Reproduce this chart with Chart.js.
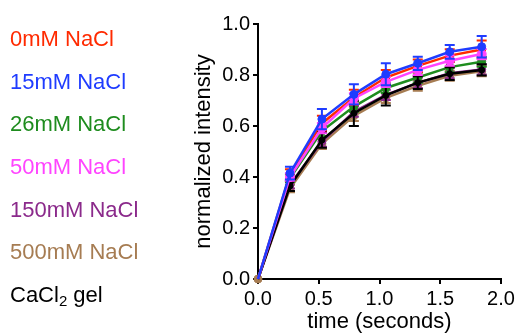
<!DOCTYPE html>
<html><head><meta charset="utf-8">
<script src="https://cdn.jsdelivr.net/npm/chart.js@4.4.1/dist/chart.umd.min.js"></script>
<style>html,body{margin:0;padding:0;background:#fff;}#c{display:block;}</style>
</head><body>
<canvas id="c" width="520" height="335"></canvas>
<script>
// ---- data ----
const times = [0, 0.263, 0.526, 0.789, 1.052, 1.315, 1.578, 1.841];
const seriesLabels = ['0mM NaCl', '15mM NaCl', '26mM NaCl', '50mM NaCl', '150mM NaCl', '500mM NaCl', 'CaCl2 gel'];
const nacl0   = [0, 0.410, 0.610, 0.712, 0.790, 0.836, 0.876, 0.900];
const nacl15  = [0, 0.415, 0.627, 0.724, 0.803, 0.846, 0.891, 0.911];
const nacl26  = [0, 0.395, 0.580, 0.676, 0.749, 0.790, 0.831, 0.852];
const nacl50  = [0, 0.400, 0.592, 0.708, 0.773, 0.820, 0.856, 0.882];
const nacl150 = [0, 0.370, 0.539, 0.656, 0.722, 0.769, 0.807, 0.822];
const nacl500 = [0, 0.355, 0.530, 0.640, 0.710, 0.758, 0.797, 0.815];
const cacl2   = [0, 0.365, 0.545, 0.650, 0.720, 0.770, 0.805, 0.820];
const err0    = [0, 0.020, 0.030, 0.030, 0.030, 0.025, 0.025, 0.035];
const err15   = [0, 0.025, 0.040, 0.040, 0.043, 0.026, 0.027, 0.042];
const err26   = [0, 0.015, 0.020, 0.020, 0.020, 0.020, 0.020, 0.020];
const err50   = [0, 0.015, 0.020, 0.020, 0.020, 0.020, 0.020, 0.020];
const err150  = [0, 0.015, 0.020, 0.020, 0.020, 0.020, 0.020, 0.020];
const err500  = [0, 0.015, 0.020, 0.020, 0.020, 0.020, 0.020, 0.020];
const errCa   = [0, 0.020, 0.030, 0.050, 0.040, 0.025, 0.025, 0.022];
const xTicks = [0, 0.5, 1.0, 1.5, 2.0];
const yTicks = [0, 0.2, 0.4, 0.6, 0.8, 1.0];
const colors = ['#ff2a00', '#1f3cff', '#1e8c1e', '#ff44ff', '#8b2a8b', '#a67c52', '#000000'];

const values = [nacl0, nacl15, nacl26, nacl50, nacl150, nacl500, cacl2];
const errs = [err0, err15, err26, err50, err150, err500, errCa];
const drawOrder = [3, 0, 4, 1, 5, 6, 2]; // lower = on top
const FONT = '"Liberation Sans", Arial, sans-serif';

const datasets = values.map((vals, k) => {
  const r = k === 6 ? 3 : (k === 3 ? 4.5 : 4);
  return {
    label: seriesLabels[k],
    data: vals.map((v, i) => ({x: times[i], y: v})),
    errors: errs[k],
    borderColor: colors[k],
    backgroundColor: colors[k],
    borderWidth: 2.5,
    pointRadius: vals.map((v, i) => (i === 0 && k !== 5) ? 0 : r),
    pointHoverRadius: 4,
    pointBorderWidth: 1,
    tension: 0,
    clip: false,
    order: drawOrder[k]
  };
});

const errorBars = {
  id: 'errorBars',
  afterDatasetDraw(chart, args) {
    const ds = chart.data.datasets[args.index];
    const ys = chart.scales.y, xs = chart.scales.x;
    const ctx = chart.ctx;
    ctx.save();
    ctx.strokeStyle = ds.borderColor;
    ctx.lineWidth = 2;
    ds.data.forEach((p, i) => {
      const e = ds.errors[i];
      if (!e) return;
      const px = xs.getPixelForValue(p.x);
      const y1 = ys.getPixelForValue(p.y + e), y2 = ys.getPixelForValue(p.y - e);
      ctx.beginPath();
      ctx.moveTo(px, y1); ctx.lineTo(px, y2);
      ctx.moveTo(px - 5, y1); ctx.lineTo(px + 5, y1);
      ctx.moveTo(px - 5, y2); ctx.lineTo(px + 5, y2);
      ctx.stroke();
    });
    ctx.restore();
  }
};

const sideLegend = {
  id: 'sideLegend',
  afterDraw(chart) {
    const ctx = chart.ctx;
    ctx.save();
    ctx.textBaseline = 'middle';
    ctx.textAlign = 'left';
    seriesLabels.forEach((t, k) => {
      const y = 40 + k * 42.67;
      let x = 10;
      ctx.fillStyle = colors[k];
      ctx.font = '22px ' + FONT;
      const m = t.match(/^(.*[a-zA-Z])(\d)( .*)$/);
      if (k === 6 && m) {
        ctx.fillText(m[1], x, y); x += ctx.measureText(m[1]).width;
        ctx.font = '15px ' + FONT;
        ctx.fillText(m[2], x, y + 6); x += ctx.measureText(m[2]).width;
        ctx.font = '22px ' + FONT;
        ctx.fillText(m[3], x, y);
      } else {
        ctx.fillText(t, x, y);
      }
    });
    ctx.restore();
  }
};

const axisCommon = {
  type: 'linear',
  grid: {display: true, drawOnChartArea: false, drawTicks: true, tickLength: 5, color: '#000', lineWidth: 2},
  border: {display: true, color: '#000', width: 2},
  ticks: {color: '#000', font: {family: FONT, size: 20}, padding: 3, callback: v => v.toFixed(1)}
};

new Chart(document.getElementById('c'), {
  type: 'line',
  data: {datasets},
  options: {
    responsive: false,
    animation: false,
    events: [],
    layout: {padding: {left: 191, right: 19, top: 24, bottom: 0}},
    plugins: {legend: {display: false}, tooltip: {enabled: false}},
    scales: {
      x: Object.assign({}, axisCommon, {
        position: 'bottom', min: 0, max: 2,
        afterBuildTicks: s => { s.ticks = xTicks.map(v => ({value: v})); },
        afterFit: s => { s.height = 56; },
        title: {display: true, text: 'time (seconds)', color: '#000', font: {family: FONT, size: 22}, padding: {top: 0, bottom: 0}}
      }),
      y: Object.assign({}, axisCommon, {
        position: 'left', min: 0, max: 1,
        afterBuildTicks: s => { s.ticks = yTicks.map(v => ({value: v})); },
        afterFit: s => { s.width = 67; },
        title: {display: true, text: 'normalized intensity', color: '#000', font: {family: FONT, size: 22}, padding: {top: 0, bottom: 0}}
      })
    }
  },
  plugins: [errorBars, sideLegend]
});
</script>
</body></html>
